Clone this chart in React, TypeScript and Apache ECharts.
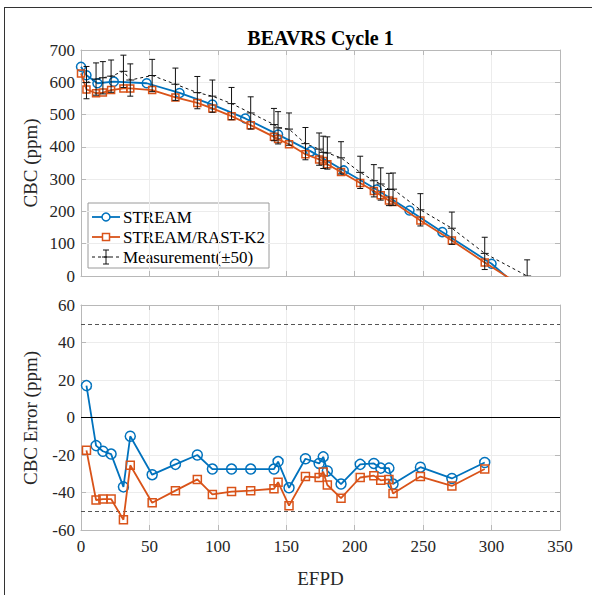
import React, { useEffect, useRef } from "react";
import * as echarts from "echarts";

// Measured critical boron concentration (BEAVRS Cycle 1)
const measEFPD = [4, 11, 16, 22, 31, 36, 52, 69, 85, 96, 110, 124, 141, 144, 152, 164, 174, 177, 180, 190, 204, 214, 219, 225, 228, 248, 271, 295, 326];
const measCBC = [599, 610, 614, 619, 634, 607, 621, 594, 568, 557, 534, 505, 469, 459, 455, 410, 393, 383, 381, 366, 321, 295, 285, 268, 269, 205, 148, 70, 0];
const measUncertainty = 50;

// STREAM depletion steps
const streamEFPD = [0, 4, 12, 24, 48, 72, 96, 120, 144, 168, 192, 216, 240, 264, 300, 324];
const streamCBC = [648, 622, 597, 602, 597, 567, 531, 488, 438, 386, 327, 268, 203, 136, 38, -50];

// STREAM/RAST-K2
const rastEFPD = [0, 4, 11, 16, 22, 31, 36, 52, 69, 85, 96, 110, 124, 141, 144, 152, 164, 174, 177, 180, 190, 204, 214, 219, 225, 228, 248, 271, 295, 326];
const rastCBC = [627, 578, 566, 568, 576, 581, 581, 576, 553, 536, 519, 495, 467, 431, 424, 408, 377, 361, 356, 346, 322, 288, 263, 250, 234, 229, 172, 110, 42, -42];

// CBC errors at measurement points
const errEFPD = [4, 11, 16, 22, 31, 36, 52, 69, 85, 96, 110, 124, 141, 144, 152, 164, 174, 177, 180, 190, 204, 214, 219, 225, 228, 248, 271, 295];
const streamErr = [17, -15, -18, -19.5, -37, -10, -30.5, -25, -20, -27.5, -27.5, -27.5, -27.5, -23.5, -37.5, -22, -24.5, -21, -28.5, -35.5, -25, -24.5, -27, -27, -35.5, -26.5, -32.5, -24];
const rastErr = [-17.5, -44, -43.5, -43.5, -54.5, -25.5, -45.5, -39, -33, -41, -39.5, -39, -38, -34.5, -47, -31.5, -32, -29, -36, -43, -32, -31, -33.5, -33, -40.5, -31.5, -36.5, -27.5];

const limitLines = [50, -50];
const zeroLine = 0;

const xTicks = { min: 0, max: 350, interval: 50 };
const cbcTicks = { min: 0, max: 700, interval: 100 };
const errTicks = { min: -60, max: 60, interval: 20 };

const BLUE = "#0072BD";
const ORANGE = "#D95319";
const FONT = "Liberation Serif";
const AXIS_COLOR = "#b8b8b8";
const GRID_COLOR = "#ececec";
const LABEL_COLOR = "#262626";

export default function App() {
  const ref = useRef<HTMLDivElement>(null);

  useEffect(() => {
    document.body.style.margin = "0";
    if (!ref.current) return;
    const chart = echarts.init(ref.current, undefined, { renderer: "svg" });

    const baseX = (grid: number, pos: "bottom" | "top", labels: boolean, split: boolean) => ({
      type: "value",
      gridIndex: grid,
      position: pos,
      min: xTicks.min,
      max: xTicks.max,
      interval: xTicks.interval,
      axisLine: { show: true, onZero: false, lineStyle: { color: AXIS_COLOR, width: 1 } },
      axisTick: { show: true, inside: true, length: 5, lineStyle: { color: AXIS_COLOR } },
      axisLabel: { show: labels, color: LABEL_COLOR, fontFamily: FONT, fontSize: 17, margin: 8 },
      splitLine: { show: split, lineStyle: { color: GRID_COLOR, width: 1 } },
    });
    const baseY = (grid: number, pos: "left" | "right", ticks: any, labels: boolean, split: boolean) => ({
      type: "value",
      gridIndex: grid,
      position: pos,
      min: ticks.min,
      max: ticks.max,
      interval: ticks.interval,
      axisLine: { show: true, onZero: false, lineStyle: { color: AXIS_COLOR, width: 1 } },
      axisTick: { show: true, inside: true, length: 5, lineStyle: { color: AXIS_COLOR } },
      axisLabel: { show: labels, color: LABEL_COLOR, fontFamily: FONT, fontSize: 17, margin: 6 },
      splitLine: { show: split, lineStyle: { color: GRID_COLOR, width: 1 } },
    });

    const errorBarItem = (params: any, api: any) => {
      const x = api.value(0);
      const y = api.value(1);
      const top = api.coord([x, y + measUncertainty]);
      const bot = api.coord([x, y - measUncertainty]);
      const mid = api.coord([x, y]);
      const cap = 3;
      const tick = 4;
      const st = { stroke: "#111", lineWidth: 1 };
      return {
        type: "group",
        children: [
          { type: "line", shape: { x1: top[0], y1: top[1], x2: bot[0], y2: bot[1] }, style: st },
          { type: "line", shape: { x1: top[0] - cap, y1: top[1], x2: top[0] + cap, y2: top[1] }, style: st },
          { type: "line", shape: { x1: bot[0] - cap, y1: bot[1], x2: bot[0] + cap, y2: bot[1] }, style: st },
          { type: "line", shape: { x1: mid[0] - tick, y1: mid[1], x2: mid[0] + tick, y2: mid[1] }, style: st },
        ],
      };
    };

    const lgX = 88;
    const lgY = 203;
    const legend = {
      type: "group",
      z: 100,
      children: [
        { type: "rect", shape: { x: lgX, y: lgY, width: 181, height: 65 }, style: { fill: "#fff", stroke: "#9a9a9a", lineWidth: 1 } },
        { type: "line", shape: { x1: lgX + 4, y1: lgY + 14, x2: lgX + 32, y2: lgY + 14 }, style: { stroke: BLUE, lineWidth: 1.8 } },
        { type: "circle", shape: { cx: lgX + 18, cy: lgY + 14, r: 4 }, style: { fill: "#fff", stroke: BLUE, lineWidth: 1.5 } },
        { type: "text", x: lgX + 35, y: lgY + 14, style: { text: "STREAM", font: `17px '${FONT}'`, fill: "#000", textVerticalAlign: "middle" } },
        { type: "line", shape: { x1: lgX + 4, y1: lgY + 34, x2: lgX + 32, y2: lgY + 34 }, style: { stroke: ORANGE, lineWidth: 1.8 } },
        { type: "rect", shape: { x: lgX + 14.5, y: lgY + 30.5, width: 7, height: 7 }, style: { fill: "#fff", stroke: ORANGE, lineWidth: 1.5 } },
        { type: "text", x: lgX + 35, y: lgY + 34, style: { text: "STREAM/RAST-K2", font: `17px '${FONT}'`, fill: "#000", textVerticalAlign: "middle" } },
        { type: "line", shape: { x1: lgX + 4, y1: lgY + 54, x2: lgX + 32, y2: lgY + 54 }, style: { stroke: "#111", lineWidth: 1, lineDash: [3, 3] } },
        { type: "line", shape: { x1: lgX + 18, y1: lgY + 47, x2: lgX + 18, y2: lgY + 61 }, style: { stroke: "#111", lineWidth: 1 } },
        { type: "line", shape: { x1: lgX + 15, y1: lgY + 47, x2: lgX + 21, y2: lgY + 47 }, style: { stroke: "#111", lineWidth: 1 } },
        { type: "line", shape: { x1: lgX + 15, y1: lgY + 61, x2: lgX + 21, y2: lgY + 61 }, style: { stroke: "#111", lineWidth: 1 } },
        { type: "line", shape: { x1: lgX + 14, y1: lgY + 54, x2: lgX + 22, y2: lgY + 54 }, style: { stroke: "#111", lineWidth: 1 } },
        { type: "text", x: lgX + 35, y: lgY + 54, style: { text: "Measurement(\u00b150)", font: `17px '${FONT}'`, fill: "#000", textVerticalAlign: "middle" } },
      ],
    };

    const option: any = {
      animation: false,
      backgroundColor: "#fff",
      grid: [
        { left: 81, right: 32, top: 50, height: 226 },
        { left: 81, right: 32, top: 305, height: 225 },
      ],
      xAxis: [
        baseX(0, "bottom", false, true),
        baseX(0, "top", false, false),
        baseX(1, "bottom", true, true),
        baseX(1, "top", false, false),
      ],
      yAxis: [
        baseY(0, "left", cbcTicks, true, true),
        baseY(0, "right", cbcTicks, false, false),
        baseY(1, "left", errTicks, true, true),
        baseY(1, "right", errTicks, false, false),
      ],
      graphic: [
        { type: "line", shape: { x1: 4.5, y1: 7, x2: 4.5, y2: 600 }, style: { stroke: "#333", lineWidth: 1 } },
        { type: "line", shape: { x1: 4, y1: 7.5, x2: 600, y2: 7.5 }, style: { stroke: "#333", lineWidth: 1 } },
        { type: "text", x: 320.5, y: 38, style: { text: "BEAVRS Cycle 1", font: `bold 20px '${FONT}'`, fill: "#000", textAlign: "center", textVerticalAlign: "middle" } },
        { type: "text", x: 30, y: 163, rotation: Math.PI / 2, style: { text: "CBC (ppm)", font: `19px '${FONT}'`, fill: LABEL_COLOR, textAlign: "center", textVerticalAlign: "middle" } },
        { type: "text", x: 30, y: 418, rotation: Math.PI / 2, style: { text: "CBC Error (ppm)", font: `19px '${FONT}'`, fill: LABEL_COLOR, textAlign: "center", textVerticalAlign: "middle" } },
        { type: "text", x: 320.5, y: 578, style: { text: "EFPD", font: `19px '${FONT}'`, fill: LABEL_COLOR, textAlign: "center", textVerticalAlign: "middle" } },
        legend,
      ],
      series: [
        {
          name: "Measurement line",
          type: "line",
          xAxisIndex: 0,
          yAxisIndex: 0,
          data: measEFPD.map((x, i) => [x, measCBC[i]]),
          symbol: "none",
          lineStyle: { color: "#111", width: 1, type: [3, 3] },
          clip: true,
          z: 3,
        },
        {
          name: "STREAM",
          type: "line",
          xAxisIndex: 0,
          yAxisIndex: 0,
          data: streamEFPD.map((x, i) => [x, streamCBC[i]]),
          symbol: "circle",
          symbolSize: 9,
          showAllSymbol: true,
          itemStyle: { color: "rgba(255,255,255,0)", borderColor: BLUE, borderWidth: 1.5 },
          lineStyle: { color: BLUE, width: 1.8 },
          clip: true,
          z: 4,
        },
        {
          name: "STREAM/RAST-K2",
          type: "line",
          xAxisIndex: 0,
          yAxisIndex: 0,
          data: rastEFPD.map((x, i) => [x, rastCBC[i]]),
          symbol: "rect",
          symbolSize: 7,
          showAllSymbol: true,
          itemStyle: { color: "rgba(255,255,255,0)", borderColor: ORANGE, borderWidth: 1.5 },
          lineStyle: { color: ORANGE, width: 1.8 },
          clip: true,
          z: 5,
        },
        {
          name: "Measurement(\u00b150)",
          type: "custom",
          xAxisIndex: 0,
          yAxisIndex: 0,
          data: measEFPD.map((x, i) => [x, measCBC[i]]),
          encode: { x: 0, y: 1 },
          renderItem: errorBarItem,
          clip: true,
          z: 6,
        },
        {
          name: "STREAM error",
          type: "line",
          xAxisIndex: 2,
          yAxisIndex: 2,
          data: errEFPD.map((x, i) => [x, streamErr[i]]),
          symbol: "circle",
          symbolSize: 10,
          showAllSymbol: true,
          itemStyle: { color: "rgba(255,255,255,0)", borderColor: BLUE, borderWidth: 1.5 },
          lineStyle: { color: BLUE, width: 1.8 },
          z: 4,
          markLine: {
            silent: true,
            symbol: "none",
            label: { show: false },
            animation: false,
            data: [
              ...limitLines.map((v) => ({ yAxis: v, lineStyle: { color: "#555", width: 1.2, type: [4, 3] } })),
              { yAxis: zeroLine, lineStyle: { color: "#000", width: 1, type: "solid" } },
            ],
          },
        },
        {
          name: "STREAM/RAST-K2 error",
          type: "line",
          xAxisIndex: 2,
          yAxisIndex: 2,
          data: errEFPD.map((x, i) => [x, rastErr[i]]),
          symbol: "rect",
          symbolSize: 8,
          showAllSymbol: true,
          itemStyle: { color: "rgba(255,255,255,0)", borderColor: ORANGE, borderWidth: 1.5 },
          lineStyle: { color: ORANGE, width: 1.8 },
          z: 5,
        },
      ],
    };

    chart.setOption(option);
    return () => chart.dispose();
  }, []);

  return <div ref={ref} style={{ width: 592, height: 595 }} />;
}
